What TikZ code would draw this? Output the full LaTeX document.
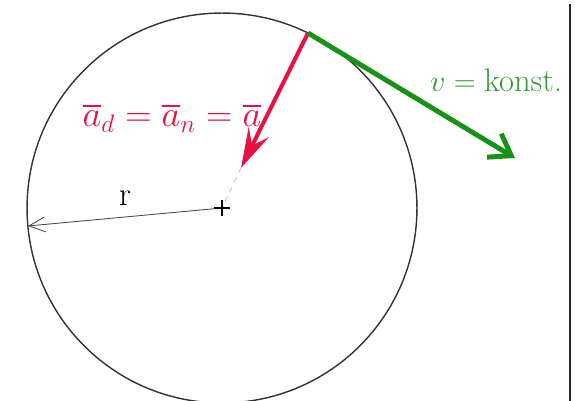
\documentclass[tikz,border=0pt]{standalone}
\usepackage{amsmath}
\usetikzlibrary{arrows.meta}
\definecolor{accred}{RGB}{232,18,66}
\definecolor{velgreen}{RGB}{22,146,22}
\definecolor{txtgreen}{RGB}{60,150,60}

\begin{document}
\begin{tikzpicture}[x=0.02cm,y=-0.02cm]
\useasboundingbox (0,0) rectangle (575,401);
\coordinate (M) at (222,208);
\coordinate (P) at (308,33);
\coordinate (L) at (28,226);
\coordinate (A) at (241,168);
\coordinate (V) at (515,158);
\draw[line width=0.8pt, black!80] (M) circle [radius=3.9cm];
\draw[gray!40, dashed, line width=0.6pt] (A) -- (M);
\draw[black!70, line width=0.5pt, -{Straight Barb[length=3.2mm,width=3mm]}] (M) -- (L) node[midway, above=3pt, black, font=\fontsize{19}{22}\selectfont] (r) {r};
\draw[black, line width=0.7pt] ([xshift=-0.16cm]M) -- ([xshift=0.16cm]M) ([yshift=-0.16cm]M) -- ([yshift=0.16cm]M);
\draw[accred, line width=2.3pt, -{Stealth[length=8mm,width=4.5mm,inset=3mm]}] (P) -- (A);
\draw[velgreen, line width=2.8pt, -{Straight Barb[length=4mm,width=5.5mm]}] (P) -- (V);
\node[text=accred, font=\fontsize{19.5}{22}\selectfont] (acc) at (172,118) {$\overline{a}_d = \overline{a}_n = \overline{a}$};
\node[text=txtgreen, font=\fontsize{18.5}{22}\selectfont] (vel) at (496,80) {$v = \text{konst.}$};
\draw[black!85, line width=1.5pt] (570,4) -- (570,401);
\end{tikzpicture}
\end{document}
